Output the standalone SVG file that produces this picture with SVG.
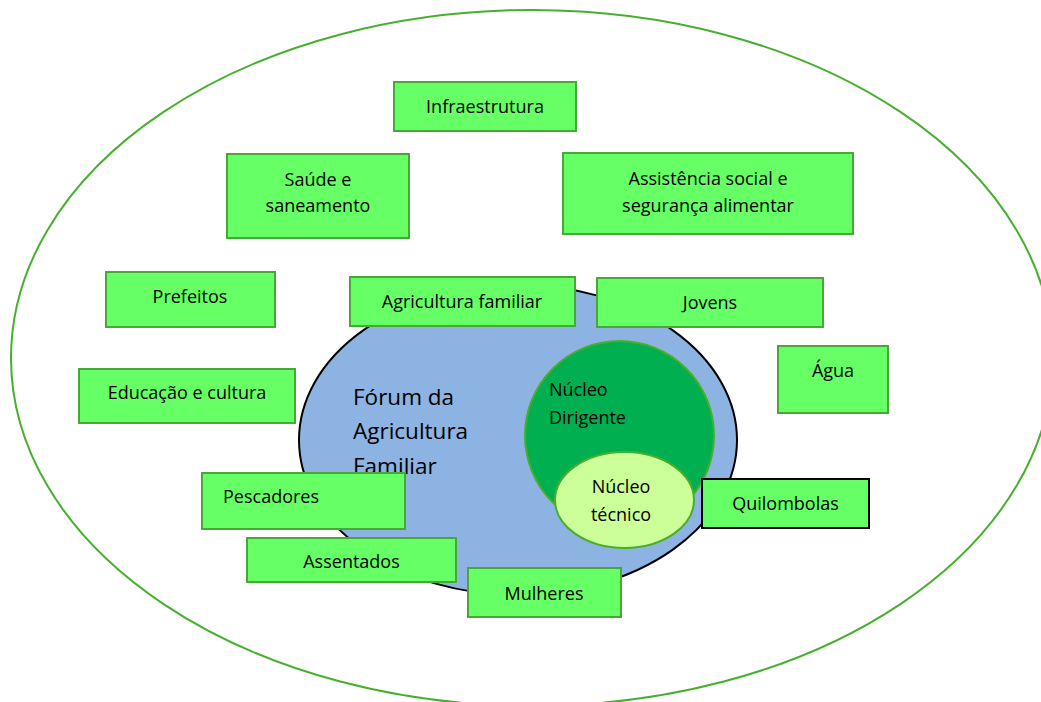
<svg xmlns="http://www.w3.org/2000/svg" width="1041" height="702" viewBox="0 0 1041 702">
<style>
.box{fill:#66ff66;stroke:#46a935;stroke-width:2}
.dark{stroke:#000}
.t{font-family:"Open Sans","Liberation Sans",sans-serif;font-size:18px;fill:#000;text-anchor:middle}
.big{font-family:"Open Sans","Liberation Sans",sans-serif;font-size:22.5px;fill:#000}
</style>
<rect width="1041" height="702" fill="#fff"/>
<g id="outer">
<ellipse cx="532" cy="358" rx="521" ry="348" fill="none" stroke="#46b02e" stroke-width="2"/>
</g>
<g id="forum">
<ellipse cx="518" cy="440" rx="219" ry="155" fill="#8db3e2" stroke="#000" stroke-width="2"/>
<text class="big" x="353"><tspan x="353" y="405">Fórum da</tspan><tspan x="353" y="439">Agricultura</tspan><tspan x="353" y="474">Familiar</tspan></text>
</g>
<g id="nucleo-dirigente">
<circle cx="619.5" cy="435.5" r="94.5" fill="#00b050" stroke="#4aae2a" stroke-width="2"/>
<text class="t" style="text-anchor:start"><tspan x="549" y="396">Núcleo</tspan><tspan x="549" y="424">Dirigente</tspan></text>
</g>
<g id="nucleo-tecnico">
<ellipse cx="624.5" cy="500" rx="69.5" ry="48" fill="#ccff99" stroke="#4aae2a" stroke-width="2"/>
<text class="t"><tspan x="621" y="493">Núcleo</tspan><tspan x="621" y="521">técnico</tspan></text>
</g>
<g id="connectors"></g>
<g id="infraestrutura">
<rect class="box" x="394" y="82" width="182" height="49"/>
<text class="t" x="485" y="113">Infraestrutura</text>
</g>
<g id="saude">
<rect class="box" x="227" y="154" width="182" height="84"/>
<text class="t"><tspan x="318" y="186">Saúde e</tspan><tspan x="318" y="212">saneamento</tspan></text>
</g>
<g id="assistencia">
<rect class="box" x="563" y="153" width="290" height="81"/>
<text class="t"><tspan x="708" y="185">Assistência social e</tspan><tspan x="708" y="212">segurança alimentar</tspan></text>
</g>
<g id="prefeitos">
<rect class="box" x="106" y="272" width="169" height="55"/>
<text class="t" x="190" y="303">Prefeitos</text>
</g>
<g id="educacao">
<rect class="box" x="79" y="369" width="216" height="54"/>
<text class="t" x="187" y="399">Educação e cultura</text>
</g>
<g id="agricultura">
<rect class="box" x="350" y="277" width="225" height="49"/>
<text class="t" x="462" y="308">Agricultura familiar</text>
</g>
<g id="jovens">
<rect class="box" x="597" y="278" width="226" height="49"/>
<text class="t" x="710" y="309">Jovens</text>
</g>
<g id="agua">
<rect class="box" x="778" y="346" width="110" height="67"/>
<text class="t" x="833" y="377">Água</text>
</g>
<g id="pescadores">
<rect class="box" x="202" y="473" width="203" height="56"/>
<text class="t" x="223" y="503" style="text-anchor:start">Pescadores</text>
</g>
<g id="assentados">
<rect class="box" x="247" y="538" width="209" height="44"/>
<text class="t" x="351.5" y="568">Assentados</text>
</g>
<g id="mulheres">
<rect class="box" x="468" y="568" width="153" height="49"/>
<text class="t" x="544" y="600">Mulheres</text>
</g>
<g id="quilombolas">
<rect class="box dark" x="702" y="479" width="167" height="49"/>
<text class="t" x="785.5" y="510">Quilombolas</text>
</g>
</svg>
